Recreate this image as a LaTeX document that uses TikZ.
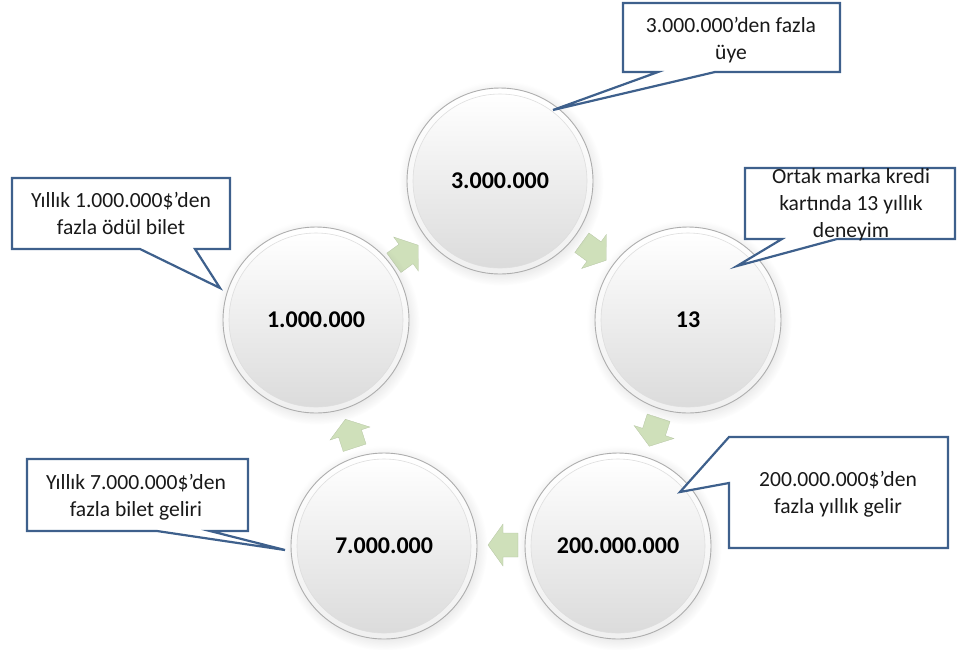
\documentclass[tikz,border=0pt]{standalone}
\usepackage{fontspec}
\setmainfont{Carlito}
\usetikzlibrary{shadows}
\definecolor{calloutblue}{RGB}{62,96,140}
\definecolor{arrowgreen}{RGB}{207,224,186}
\definecolor{textdark}{RGB}{25,25,25}

\begin{document}
\begin{tikzpicture}[x=1pt,y=-1pt,
  cyclearrow/.style={fill=arrowgreen, draw=arrowgreen!88!black, line width=0.3pt},
  ballouter/.style={circle, minimum size=186pt, inner sep=0pt,
    top color=white, bottom color=black!6, draw=black!32, line width=0.9pt,
    circular drop shadow={shadow xshift=1pt, shadow yshift=-2pt, opacity=.2}},
  ballinner/.style={circle, minimum size=174pt, inner sep=0pt,
    top color=white, bottom color=black!14, draw=black!13, line width=0.6pt,
    font=\fontsize{24}{28}\selectfont\bfseries},
  callout/.style={fill=white, draw=calloutblue, line width=2.2pt, line join=miter},
  calltext/.style={align=center, inner sep=0pt, text=textdark,
    font=\fontsize{21.6}{27}\selectfont}
]
\useasboundingbox (0,0) rectangle (958,649);

% green cycle arrows (drawn first, the balls sit over their tails)
\foreach \px/\py/\ang in {594/251.5/-36, 654/432/-108, 503/545/180, 350/433.5/108, 406/254/36}{
  \begin{scope}[shift={(\px,\py)}, rotate=\ang]
    \fill[cyclearrow] (-15,-12) -- (0,-12) -- (0,-21) -- (15,0) -- (0,21) -- (0,12) -- (-15,12) -- cycle;
  \end{scope}
}

% the five balls
\node[ballouter] (btop) at (500,181) {};
\node[ballinner] (ntop) at (btop) {3.000.000};

\node[ballouter] (bright) at (688,320) {};
\node[ballinner] (nright) at (bright) {13};

\node[ballouter] (bbr) at (618,546) {};
\node[ballinner] (nbr) at (bbr) {200.000.000};

\node[ballouter] (bbl) at (384,546) {};
\node[ballinner] (nbl) at (bbl) {7.000.000};

\node[ballouter] (bleft) at (316,320) {};
\node[ballinner] (nleft) at (bleft) {1.000.000};

% callout tips
\coordinate (ttop) at (553,110);
\coordinate (tright) at (737,266);
\coordinate (tbr) at (680,492);
\coordinate (tbl) at (285,550);
\coordinate (tleft) at (220,288);

% callouts
\draw[callout] (623,3) -- (840,3) -- (840,72) -- (715,72) -- (ttop) -- (658,72) -- (623,72) -- cycle;
\node[calltext] (ctop) at (731,40) {3.000.000’den fazla\\üye};

\draw[callout] (745,168) -- (955,168) -- (955,239) -- (837,239) -- (tright) -- (782,239) -- (745,239) -- cycle;
\node[calltext] (cright) at (851,205) {Ortak marka kredi\\kartında 13 yıllık\\deneyim};

\draw[callout] (729,437) -- (948,437) -- (948,548) -- (729,548) -- (729,483) -- (tbr) -- cycle;
\node[calltext] (cbr) at (838,494) {200.000.000\$’den\\fazla yıllık gelir};

\draw[callout] (27,459) -- (248,459) -- (248,531) -- (210,531) -- (tbl) -- (157,531) -- (27,531) -- cycle;
\node[calltext] (cbl) at (136,497) {Yıllık 7.000.000\$’den\\fazla bilet geliri};

\draw[callout] (12,178) -- (230,178) -- (230,249) -- (195,249) -- (tleft) -- (140,249) -- (12,249) -- cycle;
\node[calltext] (cleft) at (121,213) {Yıllık 1.000.000\$’den\\fazla ödül bilet};
\end{tikzpicture}
\end{document}
